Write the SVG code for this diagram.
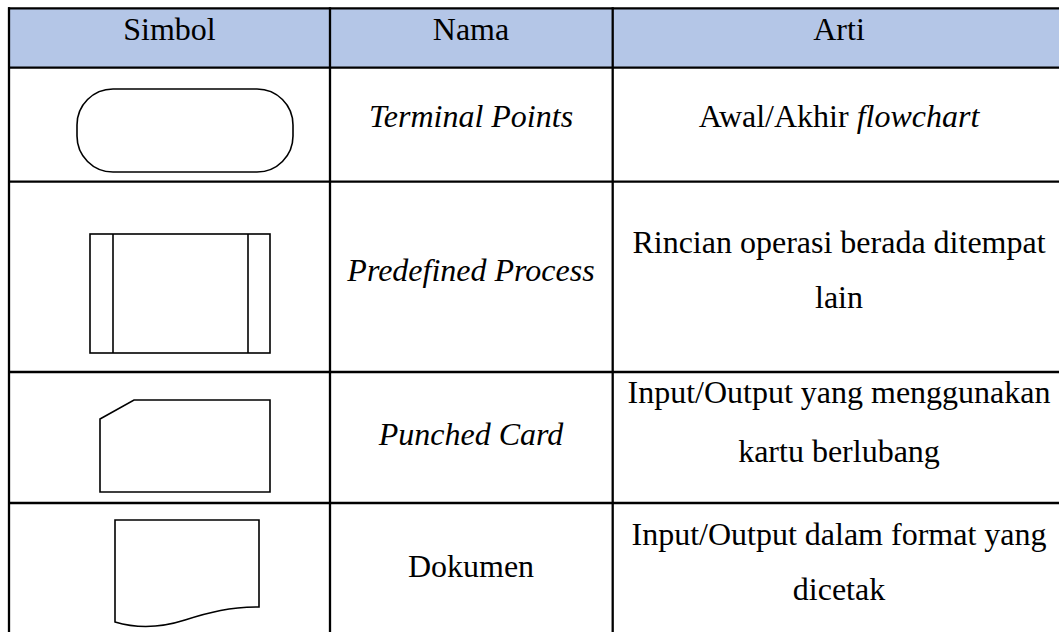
<svg xmlns="http://www.w3.org/2000/svg" width="1059" height="632" viewBox="0 0 1059 632">
<style>
.t{font-family:"Liberation Serif","Times New Roman",serif;font-size:32px;fill:#000;text-anchor:middle}
.i{font-style:italic}
.grid{stroke:#000;stroke-width:2.3;fill:none}
.sym{stroke:#000;stroke-width:1.6;fill:#fff;stroke-linejoin:miter}
</style>
<rect x="9" y="8" width="1050" height="60" fill="#B4C6E7"/>
<g id="grid">
<line class="grid" x1="8" y1="8.3" x2="1059" y2="8.3"/>
<line class="grid" x1="8" y1="67.7" x2="1059" y2="67.7"/>
<line class="grid" x1="8" y1="181.7" x2="1059" y2="181.7"/>
<line class="grid" x1="8" y1="372" x2="1059" y2="372"/>
<line class="grid" x1="8" y1="503" x2="1059" y2="503"/>
<line class="grid" x1="9" y1="7.2" x2="9" y2="632"/>
<line class="grid" x1="330" y1="7.2" x2="330" y2="632"/>
<line class="grid" x1="612.7" y1="7.2" x2="612.7" y2="632"/>
</g>
<g id="header">
<text class="t" x="169.5" y="40">Simbol</text>
<text class="t" x="471" y="40">Nama</text>
<text class="t" x="839" y="40">Arti</text>
</g>
<g id="terminal">
<rect class="sym" x="77" y="89" width="216" height="83" rx="36" ry="36"/>
<text class="t i" x="471" y="127">Terminal Points</text>
<text class="t" x="839" y="127">Awal/Akhir <tspan class="i">flowchart</tspan></text>
</g>
<g id="predefined">
<rect class="sym" x="90" y="234" width="180" height="119"/>
<line class="sym" x1="113" y1="234" x2="113" y2="353"/>
<line class="sym" x1="248" y1="234" x2="248" y2="353"/>
<text class="t i" x="471" y="281">Predefined Process</text>
<text class="t" x="839" y="253">Rincian operasi berada ditempat</text>
<text class="t" x="839" y="308">lain</text>
</g>
<g id="punched">
<path class="sym" d="M100,419 L134,400 L270,400 L270,492 L100,492 Z"/>
<text class="t i" x="471" y="445">Punched Card</text>
<text class="t" x="839" y="403">Input/Output yang menggunakan</text>
<text class="t" x="839" y="462">kartu berlubang</text>
</g>
<g id="dokumen">
<path class="sym" d="M115,520 L259,520 L259,607 C230,607 210,612 185,620 C160,628 135,628 115,622 Z"/>
<text class="t" x="471" y="577">Dokumen</text>
<text class="t" x="839" y="545">Input/Output dalam format yang</text>
<text class="t" x="839" y="600">dicetak</text>
</g>
<g id="connectors"></g>
</svg>
